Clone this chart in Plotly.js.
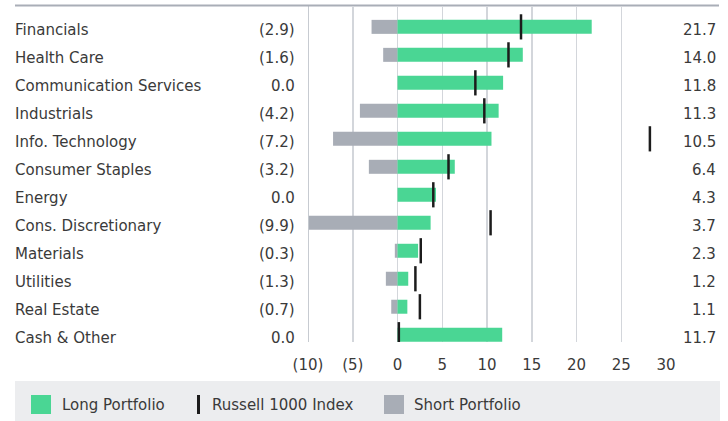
<!DOCTYPE html>
<html>
<head>
<meta charset="utf-8">
<script src="https://cdn.plot.ly/plotly-3.0.1.min.js"></script>
<style>html,body{margin:0;padding:0;background:#fff;}#chart{width:728px;height:421px;}</style>
</head>
<body>
<div id="chart"></div>
<script>
// Data
const sectors = ["Financials","Health Care","Communication Services","Industrials","Info. Technology","Consumer Staples","Energy","Cons. Discretionary","Materials","Utilities","Real Estate","Cash & Other"];
const longPortfolio = [21.7,14.0,11.8,11.3,10.5,6.4,4.3,3.7,2.3,1.2,1.1,11.7];
const shortPortfolio = [-2.9,-1.6,0.0,-4.2,-7.2,-3.2,0.0,-9.9,-0.3,-1.3,-0.7,0.0];
const russell1000 = [13.8,12.4,8.7,9.7,28.2,5.7,4.0,10.4,2.6,2.0,2.5,0.15];
const xTickVals = [-10,-5,0,5,10,15,20,25,30];
const xTickText = ["(10)","(5)","0","5","10","15","20","25","30"];
const legendNames = ["Long Portfolio","Russell 1000 Index","Short Portfolio"];

const GREEN = "#4ad694", GRAY = "#a8adb6", BLACK = "#1c1c1c", TXT = "#3a3a3a";
const FONT = "'DejaVu Sans', sans-serif";
const FS = 15;

function fmtShort(v){ return v < 0 ? "(" + Math.abs(v).toFixed(1) + ")" : v.toFixed(1); }

const traces = [
  {type:"bar", orientation:"h", y:sectors, x:shortPortfolio, marker:{color:GRAY}, width:0.5, name:legendNames[2], showlegend:false, hoverinfo:"skip"},
  {type:"bar", orientation:"h", y:sectors, x:longPortfolio, marker:{color:GREEN}, width:0.5, name:legendNames[0], showlegend:false, hoverinfo:"skip"},
  {type:"scatter", mode:"markers", y:sectors, x:russell1000, name:legendNames[1], showlegend:false,
   marker:{symbol:"line-ns", size:18, line:{width:2.5, color:BLACK}, color:BLACK}, hoverinfo:"skip"}
];

const plotL = 308, plotR = 666, plotT = 7, plotB = 342;
const pw = plotR - plotL, ph = plotB - plotT;
const px = x => (x - plotL) / pw;      // pixel -> paper x
const py = y => (plotB - y) / ph;      // pixel -> paper y

const annotations = [];
const tf = {family:FONT, size:FS, color:TXT};
sectors.forEach((s, i) => {
  annotations.push({x:px(13), xref:"paper", y:s, yref:"y", yshift:-3, text:s, showarrow:false, xanchor:"left", yanchor:"middle", font:tf});
  annotations.push({x:px(297), xref:"paper", y:s, yref:"y", yshift:-3, text:fmtShort(shortPortfolio[i]), showarrow:false, xanchor:"right", yanchor:"middle", font:tf});
  annotations.push({x:px(718), xref:"paper", y:s, yref:"y", yshift:-3, text:longPortfolio[i].toFixed(1), showarrow:false, xanchor:"right", yanchor:"middle", font:tf});
});
// legend texts
annotations.push({x:px(60), xref:"paper", y:py(405), yref:"paper", text:legendNames[0], showarrow:false, xanchor:"left", yanchor:"middle", font:tf});
annotations.push({x:px(210), xref:"paper", y:py(405), yref:"paper", text:legendNames[1], showarrow:false, xanchor:"left", yanchor:"middle", font:tf});
annotations.push({x:px(412), xref:"paper", y:py(405), yref:"paper", text:legendNames[2], showarrow:false, xanchor:"left", yanchor:"middle", font:tf});

const shapes = [
  // top rule
  {type:"line", xref:"paper", yref:"paper", x0:px(15), x1:px(719), y0:py(5.5), y1:py(5.5), line:{color:"#a9aeb7", width:2}},
  // left border line at -10
  {type:"line", xref:"x", yref:"paper", x0:-10, x1:-10, y0:0, y1:py(6), line:{color:"#b5bac2", width:1.5}, layer:"below"},
  // legend background
  {type:"rect", xref:"paper", yref:"paper", x0:px(15), x1:px(720), y0:py(381), y1:py(421), fillcolor:"#ecedef", line:{width:0}, layer:"below"},
  // legend symbols
  {type:"rect", xref:"paper", yref:"paper", x0:px(31), x1:px(51), y0:py(395), y1:py(414), fillcolor:GREEN, line:{width:0}},
  {type:"rect", xref:"paper", yref:"paper", x0:px(197), x1:px(200), y0:py(395), y1:py(414), fillcolor:BLACK, line:{width:0}},
  {type:"rect", xref:"paper", yref:"paper", x0:px(384), x1:px(404), y0:py(395), y1:py(414), fillcolor:GRAY, line:{width:0}}
];

const layout = {
  width:728, height:421,
  margin:{l:plotL, r:728-plotR, t:plotT, b:421-plotB, pad:0},
  paper_bgcolor:"#fff", plot_bgcolor:"rgba(0,0,0,0)",
  barmode:"overlay",
  showlegend:false,
  font:{family:FONT, size:FS, color:TXT},
  xaxis:{range:[-10,30], tickvals:xTickVals, ticktext:xTickText, showgrid:true, gridcolor:"#d3d6db", gridwidth:1.5,
         zeroline:false, showline:false, ticks:"", ticklabelstandoff:12, tickfont:tf, fixedrange:true},
  yaxis:{type:"category", range:[11.26,-0.71], showticklabels:false, showgrid:false, zeroline:false, showline:false, ticks:"", fixedrange:true},
  annotations:annotations,
  shapes:shapes
};

Plotly.newPlot("chart", traces, layout, {staticPlot:true, displayModeBar:false});
</script>
</body>
</html>
